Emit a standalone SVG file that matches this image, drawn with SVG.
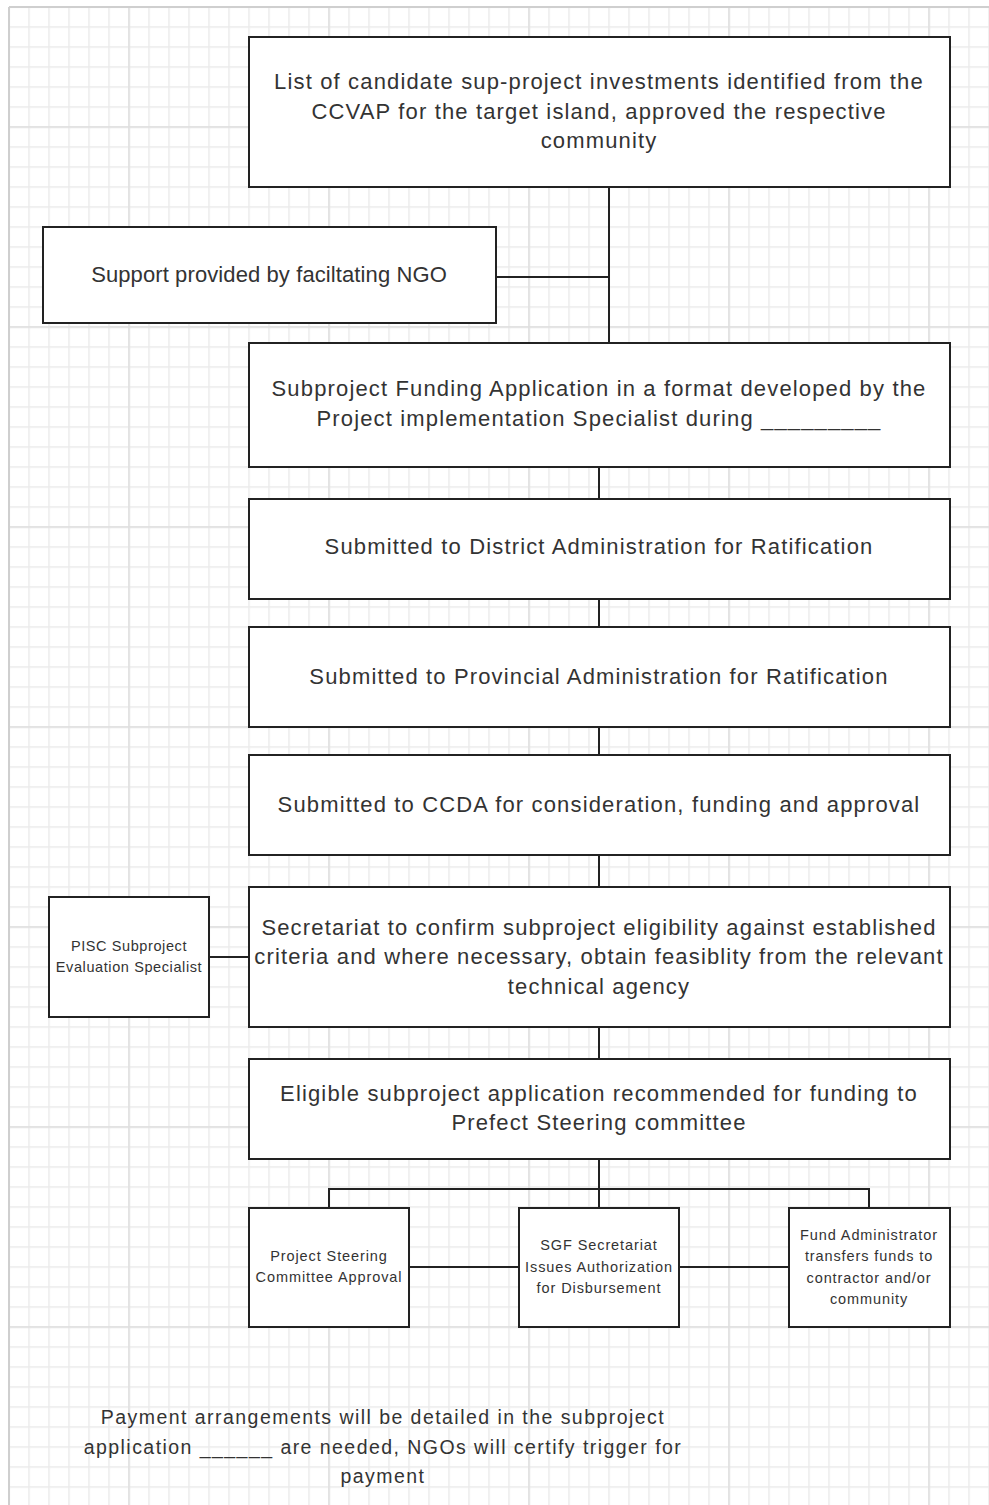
<svg xmlns="http://www.w3.org/2000/svg" width="989" height="1505" viewBox="0 0 989 1505">
<style>
.box{fill:#fff;stroke:#222;stroke-width:2}
.t{font-family:"Liberation Sans",Arial,sans-serif;font-size:22px;letter-spacing:1.15px;fill:#333;text-anchor:middle}
.s{font-family:"Liberation Sans",Arial,sans-serif;font-size:14.5px;letter-spacing:0.9px;fill:#333;text-anchor:middle}
.n{font-family:"Liberation Sans",Arial,sans-serif;font-size:19.5px;letter-spacing:1.45px;fill:#333;text-anchor:middle}
.c{fill:none;stroke:#222;stroke-width:2}
</style>
<defs>
<pattern id="g" patternUnits="userSpaceOnUse" x="8.25" y="6.25" width="20" height="20">
<rect width="20" height="1.5" fill="#ebebeb"/><rect width="1.5" height="20" fill="#ebebeb"/>
</pattern>
<pattern id="G" patternUnits="userSpaceOnUse" x="128.25" y="126.25" width="200" height="200">
<rect width="200" height="1.5" fill="#dedede"/><rect width="1.5" height="200" fill="#dedede"/>
</pattern>
</defs>
<rect width="989" height="1505" fill="#fff"/>
<g id="grid">
<rect x="9" y="7" width="980" height="1498" fill="url(#g)"/>
<rect x="9" y="7" width="980" height="1498" fill="url(#G)"/>
<path d="M9 7V1505M9 7H989" stroke="#cfcfcf" stroke-width="2" fill="none"/>
</g>
<g id="connectors">
<path class="c" d="M609 187V343M496 277H609"/>
<path class="c" d="M599 467V499M599 599V627M599 727V755M599 855V887M599 1027V1059M599 1159V1208"/>
<path class="c" d="M329 1208V1189H869V1208"/>
<path class="c" d="M409 1267H519M679 1267H789"/>
<path class="c" d="M209 957H249"/>
</g>
<g id="n1"><rect class="box" x="249" y="37" width="701" height="150"/>
<text class="t" x="599" y="89">List of candidate sup-project investments identified from the</text>
<text class="t" x="599" y="119">CCVAP for the target island, approved the respective</text>
<text class="t" x="599" y="148">community</text></g>
<g id="n_ngo"><rect class="box" x="43" y="227" width="453" height="96"/>
<text class="t" x="269" y="282" style="letter-spacing:0.1px">Support provided by faciltating NGO</text></g>
<g id="n2"><rect class="box" x="249" y="343" width="701" height="124"/>
<text class="t" x="599" y="396">Subproject Funding Application in a format developed by the</text>
<text class="t" x="599" y="426">Project implementation Specialist during _________</text></g>
<g id="n3"><rect class="box" x="249" y="499" width="701" height="100"/>
<text class="t" x="599" y="554">Submitted to District Administration for Ratification</text></g>
<g id="n4"><rect class="box" x="249" y="627" width="701" height="100"/>
<text class="t" x="599" y="684">Submitted to Provincial Administration for Ratification</text></g>
<g id="n5"><rect class="box" x="249" y="755" width="701" height="100"/>
<text class="t" x="599" y="812">Submitted to CCDA for consideration, funding and approval</text></g>
<g id="n6"><rect class="box" x="249" y="887" width="701" height="140"/>
<text class="t" x="599" y="935">Secretariat to confirm subproject eligibility against established</text>
<text class="t" x="599" y="964">criteria and where necessary, obtain feasiblity from the relevant</text>
<text class="t" x="599" y="994">technical agency</text></g>
<g id="n_pisc"><rect class="box" x="49" y="897" width="160" height="120"/>
<text class="s" x="129" y="951" style="letter-spacing:0.6px">PISC Subproject</text>
<text class="s" x="129" y="972" style="letter-spacing:0.6px">Evaluation Specialist</text></g>
<g id="n7"><rect class="box" x="249" y="1059" width="701" height="100"/>
<text class="t" x="599" y="1101">Eligible subproject application recommended for funding to</text>
<text class="t" x="599" y="1130">Prefect Steering committee</text></g>
<g id="n_psc"><rect class="box" x="249" y="1208" width="160" height="119"/>
<text class="s" x="329" y="1261">Project Steering</text>
<text class="s" x="329" y="1282">Committee Approval</text></g>
<g id="n_sgf"><rect class="box" x="519" y="1208" width="160" height="119"/>
<text class="s" x="599" y="1250">SGF Secretariat</text>
<text class="s" x="599" y="1272">Issues Authorization</text>
<text class="s" x="599" y="1293">for Disbursement</text></g>
<g id="n_fund"><rect class="box" x="789" y="1208" width="161" height="119"/>
<text class="s" x="869" y="1240">Fund Administrator</text>
<text class="s" x="869" y="1261">transfers funds to</text>
<text class="s" x="869" y="1283">contractor and/or</text>
<text class="s" x="869" y="1304">community</text></g>
<g id="note">
<text class="n" x="383" y="1424">Payment arrangements will be detailed in the subproject</text>
<text class="n" x="383" y="1454">application ______ are needed, NGOs will certify trigger for</text>
<text class="n" x="383" y="1483">payment</text></g>
</svg>
